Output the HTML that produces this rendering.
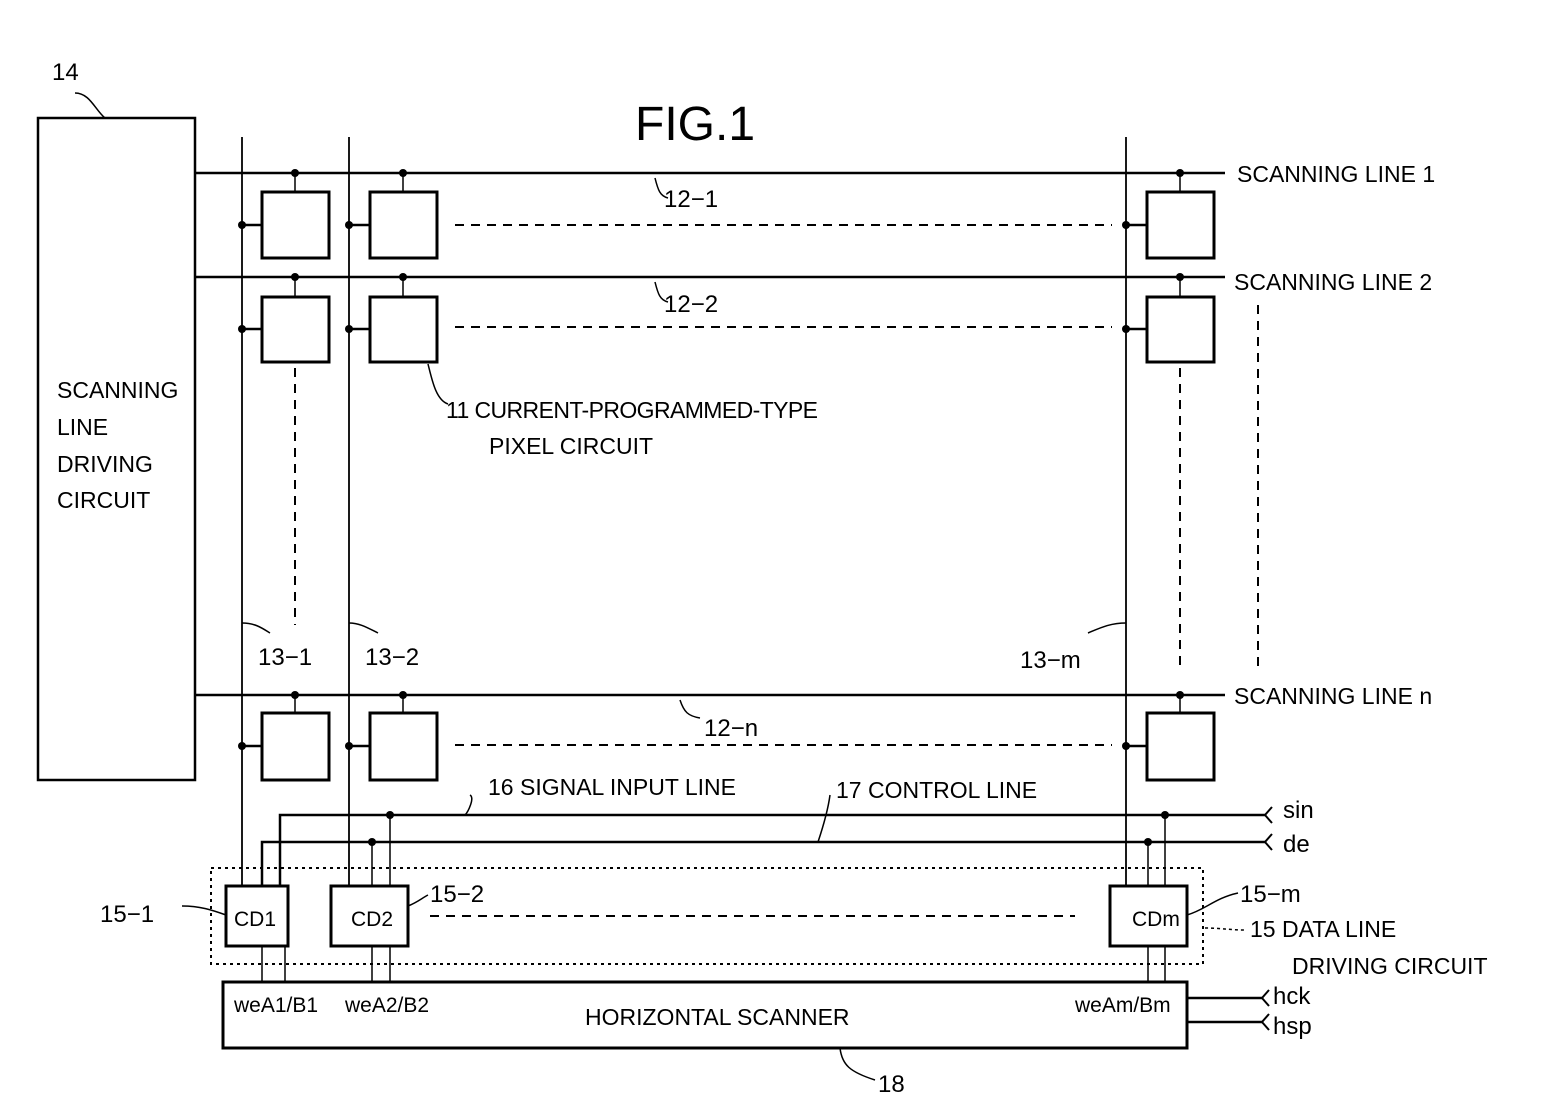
<!DOCTYPE html>
<html><head><style>body{margin:0;background:#fff}svg{display:block}text{font-family:"Liberation Sans",sans-serif;fill:#000}</style></head><body>
<svg width="1552" height="1111" viewBox="0 0 1552 1111" xmlns="http://www.w3.org/2000/svg">
<g stroke="#000" fill="none" stroke-width="2.5">
<rect x="38" y="118" width="157" height="662"/>
<line x1="195" y1="173" x2="1225" y2="173"/>
<line x1="195" y1="277" x2="1225" y2="277"/>
<line x1="195" y1="695" x2="1225" y2="695"/>
<line x1="242" y1="137" x2="242" y2="886" stroke-width="1.8"/>
<line x1="349" y1="137" x2="349" y2="886" stroke-width="1.8"/>
<line x1="1126" y1="137" x2="1126" y2="886" stroke-width="1.8"/>
<rect x="262" y="192" width="67" height="66" stroke-width="3"/>
<rect x="370" y="192" width="67" height="66" stroke-width="3"/>
<rect x="1147" y="192" width="67" height="66" stroke-width="3"/>
<rect x="262" y="297" width="67" height="65" stroke-width="3"/>
<rect x="370" y="297" width="67" height="65" stroke-width="3"/>
<rect x="1147" y="297" width="67" height="65" stroke-width="3"/>
<rect x="262" y="713" width="67" height="67" stroke-width="3"/>
<rect x="370" y="713" width="67" height="67" stroke-width="3"/>
<rect x="1147" y="713" width="67" height="67" stroke-width="3"/>
<g stroke-width="1.5">
<line x1="295" y1="173" x2="295" y2="192"/><line x1="403" y1="173" x2="403" y2="192"/><line x1="1180" y1="173" x2="1180" y2="192"/>
<line x1="295" y1="277" x2="295" y2="297"/><line x1="403" y1="277" x2="403" y2="297"/><line x1="1180" y1="277" x2="1180" y2="297"/>
<line x1="295" y1="695" x2="295" y2="713"/><line x1="403" y1="695" x2="403" y2="713"/><line x1="1180" y1="695" x2="1180" y2="713"/>
</g>
<g stroke-width="2.5">
<line x1="242" y1="225" x2="262" y2="225"/><line x1="349" y1="225" x2="370" y2="225"/><line x1="1126" y1="225" x2="1147" y2="225"/>
<line x1="242" y1="329" x2="262" y2="329"/><line x1="349" y1="329" x2="370" y2="329"/><line x1="1126" y1="329" x2="1147" y2="329"/>
<line x1="242" y1="746" x2="262" y2="746"/><line x1="349" y1="746" x2="370" y2="746"/><line x1="1126" y1="746" x2="1147" y2="746"/>
</g>
<g stroke-width="2" stroke-dasharray="9,7">
<line x1="455" y1="225" x2="1112" y2="225"/>
<line x1="455" y1="327" x2="1112" y2="327"/>
<line x1="455" y1="745" x2="1112" y2="745"/>
<line x1="430" y1="916" x2="1075" y2="916"/>
<line x1="295" y1="368" x2="295" y2="625"/>
<line x1="1180" y1="368" x2="1180" y2="668"/>
<line x1="1258" y1="305" x2="1258" y2="668"/>
</g>
<polyline points="280,886 280,815 1265,815"/>
<polyline points="262,886 262,842 1265,842"/>
<g stroke-width="1.5">
<line x1="390" y1="815" x2="390" y2="886"/><line x1="372" y1="842" x2="372" y2="886"/>
<line x1="1165" y1="815" x2="1165" y2="886"/><line x1="1148" y1="842" x2="1148" y2="886"/>
<line x1="262" y1="946" x2="262" y2="982"/><line x1="285" y1="946" x2="285" y2="982"/>
<line x1="372" y1="946" x2="372" y2="982"/><line x1="390" y1="946" x2="390" y2="982"/>
<line x1="1148" y1="946" x2="1148" y2="982"/><line x1="1165" y1="946" x2="1165" y2="982"/>
</g>
<polyline points="1272,807 1265,815 1272,823" stroke-width="2"/>
<polyline points="1272,834 1265,842 1272,850" stroke-width="2"/>
<rect x="226" y="886" width="62" height="60" stroke-width="3"/>
<rect x="331" y="886" width="77" height="60" stroke-width="3"/>
<rect x="1110" y="886" width="77" height="60" stroke-width="3"/>
<rect x="211" y="868" width="992" height="96" stroke-width="2" stroke-dasharray="3,4"/>
<rect x="223" y="982" width="964" height="66" stroke-width="3"/>
<line x1="1187" y1="998" x2="1262" y2="998"/>
<line x1="1187" y1="1022" x2="1262" y2="1022"/>
<polyline points="1269,990 1262,998 1269,1006" stroke-width="2"/>
<polyline points="1269,1014 1262,1022 1269,1030" stroke-width="2"/>
<g stroke-width="1.5">
<path d="M75,93 C90,93 95,110 105,118"/>
<path d="M655,178 C658,190 660,196 668,198"/>
<path d="M655,282 C658,294 660,300 668,302"/>
<path d="M680,700 C684,712 688,716 700,718"/>
<path d="M428,364 C432,380 436,400 448,404"/>
<path d="M242,623 C255,623 262,628 270,633"/>
<path d="M349,623 C360,623 368,628 378,633"/>
<path d="M1126,623 C1110,623 1100,628 1088,633"/>
<path d="M470,795 C475,798 468,812 465,815"/>
<path d="M830,795 C828,810 822,830 818,842"/>
<path d="M182,906 C200,906 212,910 226,915"/>
<path d="M408,906 C418,902 422,898 428,895"/>
<path d="M1187,915 C1205,910 1215,898 1238,893"/>
<path d="M840,1048 C842,1065 850,1072 875,1080"/>
<path d="M1205,928 C1220,928 1230,930 1245,930" stroke-dasharray="3,3"/>
</g>
</g>
<g fill="#000">
<circle cx="295" cy="173" r="4"/><circle cx="403" cy="173" r="4"/><circle cx="1180" cy="173" r="4"/>
<circle cx="295" cy="277" r="4"/><circle cx="403" cy="277" r="4"/><circle cx="1180" cy="277" r="4"/>
<circle cx="295" cy="695" r="4"/><circle cx="403" cy="695" r="4"/><circle cx="1180" cy="695" r="4"/>
<circle cx="242" cy="225" r="4"/><circle cx="349" cy="225" r="4"/><circle cx="1126" cy="225" r="4"/>
<circle cx="242" cy="329" r="4"/><circle cx="349" cy="329" r="4"/><circle cx="1126" cy="329" r="4"/>
<circle cx="242" cy="746" r="4"/><circle cx="349" cy="746" r="4"/><circle cx="1126" cy="746" r="4"/>
<circle cx="390" cy="815" r="4"/><circle cx="372" cy="842" r="4"/>
<circle cx="1165" cy="815" r="4"/><circle cx="1148" cy="842" r="4"/>
</g>
<text x="635" y="140" font-size="48">FIG.1</text>
<text x="52" y="80" font-size="24">14</text>
<g font-size="23">
<text x="57" y="398">SCANNING</text>
<text x="57" y="435">LINE</text>
<text x="57" y="472">DRIVING</text>
<text x="57" y="508">CIRCUIT</text>
<text x="1237" y="182">SCANNING LINE 1</text>
<text x="1234" y="290">SCANNING LINE 2</text>
<text x="1234" y="704">SCANNING LINE n</text>
<text x="446" y="418" textLength="372">11 CURRENT-PROGRAMMED-TYPE</text>
<text x="489" y="454">PIXEL CIRCUIT</text>
<text x="488" y="795">16 SIGNAL INPUT LINE</text>
<text x="836" y="798">17 CONTROL LINE</text>
<text x="1250" y="937">15 DATA LINE</text>
<text x="1292" y="974">DRIVING CIRCUIT</text>
<text x="585" y="1025">HORIZONTAL SCANNER</text>
</g>
<g font-size="24">
<text x="664" y="207">12−1</text>
<text x="664" y="312">12−2</text>
<text x="704" y="736">12−n</text>
<text x="258" y="665">13−1</text>
<text x="365" y="665">13−2</text>
<text x="1020" y="668">13−m</text>
<text x="100" y="922">15−1</text>
<text x="430" y="902">15−2</text>
<text x="1240" y="902">15−m</text>
<text x="878" y="1092">18</text>
<text x="1283" y="818">sin</text>
<text x="1283" y="852">de</text>
<text x="1273" y="1004">hck</text>
<text x="1273" y="1034">hsp</text>
</g>
<g font-size="21">
<text x="234" y="926">CD1</text>
<text x="351" y="926">CD2</text>
<text x="1132" y="926">CDm</text>
<text x="234" y="1012">weA1/B1</text>
<text x="345" y="1012">weA2/B2</text>
<text x="1075" y="1012">weAm/Bm</text>
</g>
</svg>
</body></html>
